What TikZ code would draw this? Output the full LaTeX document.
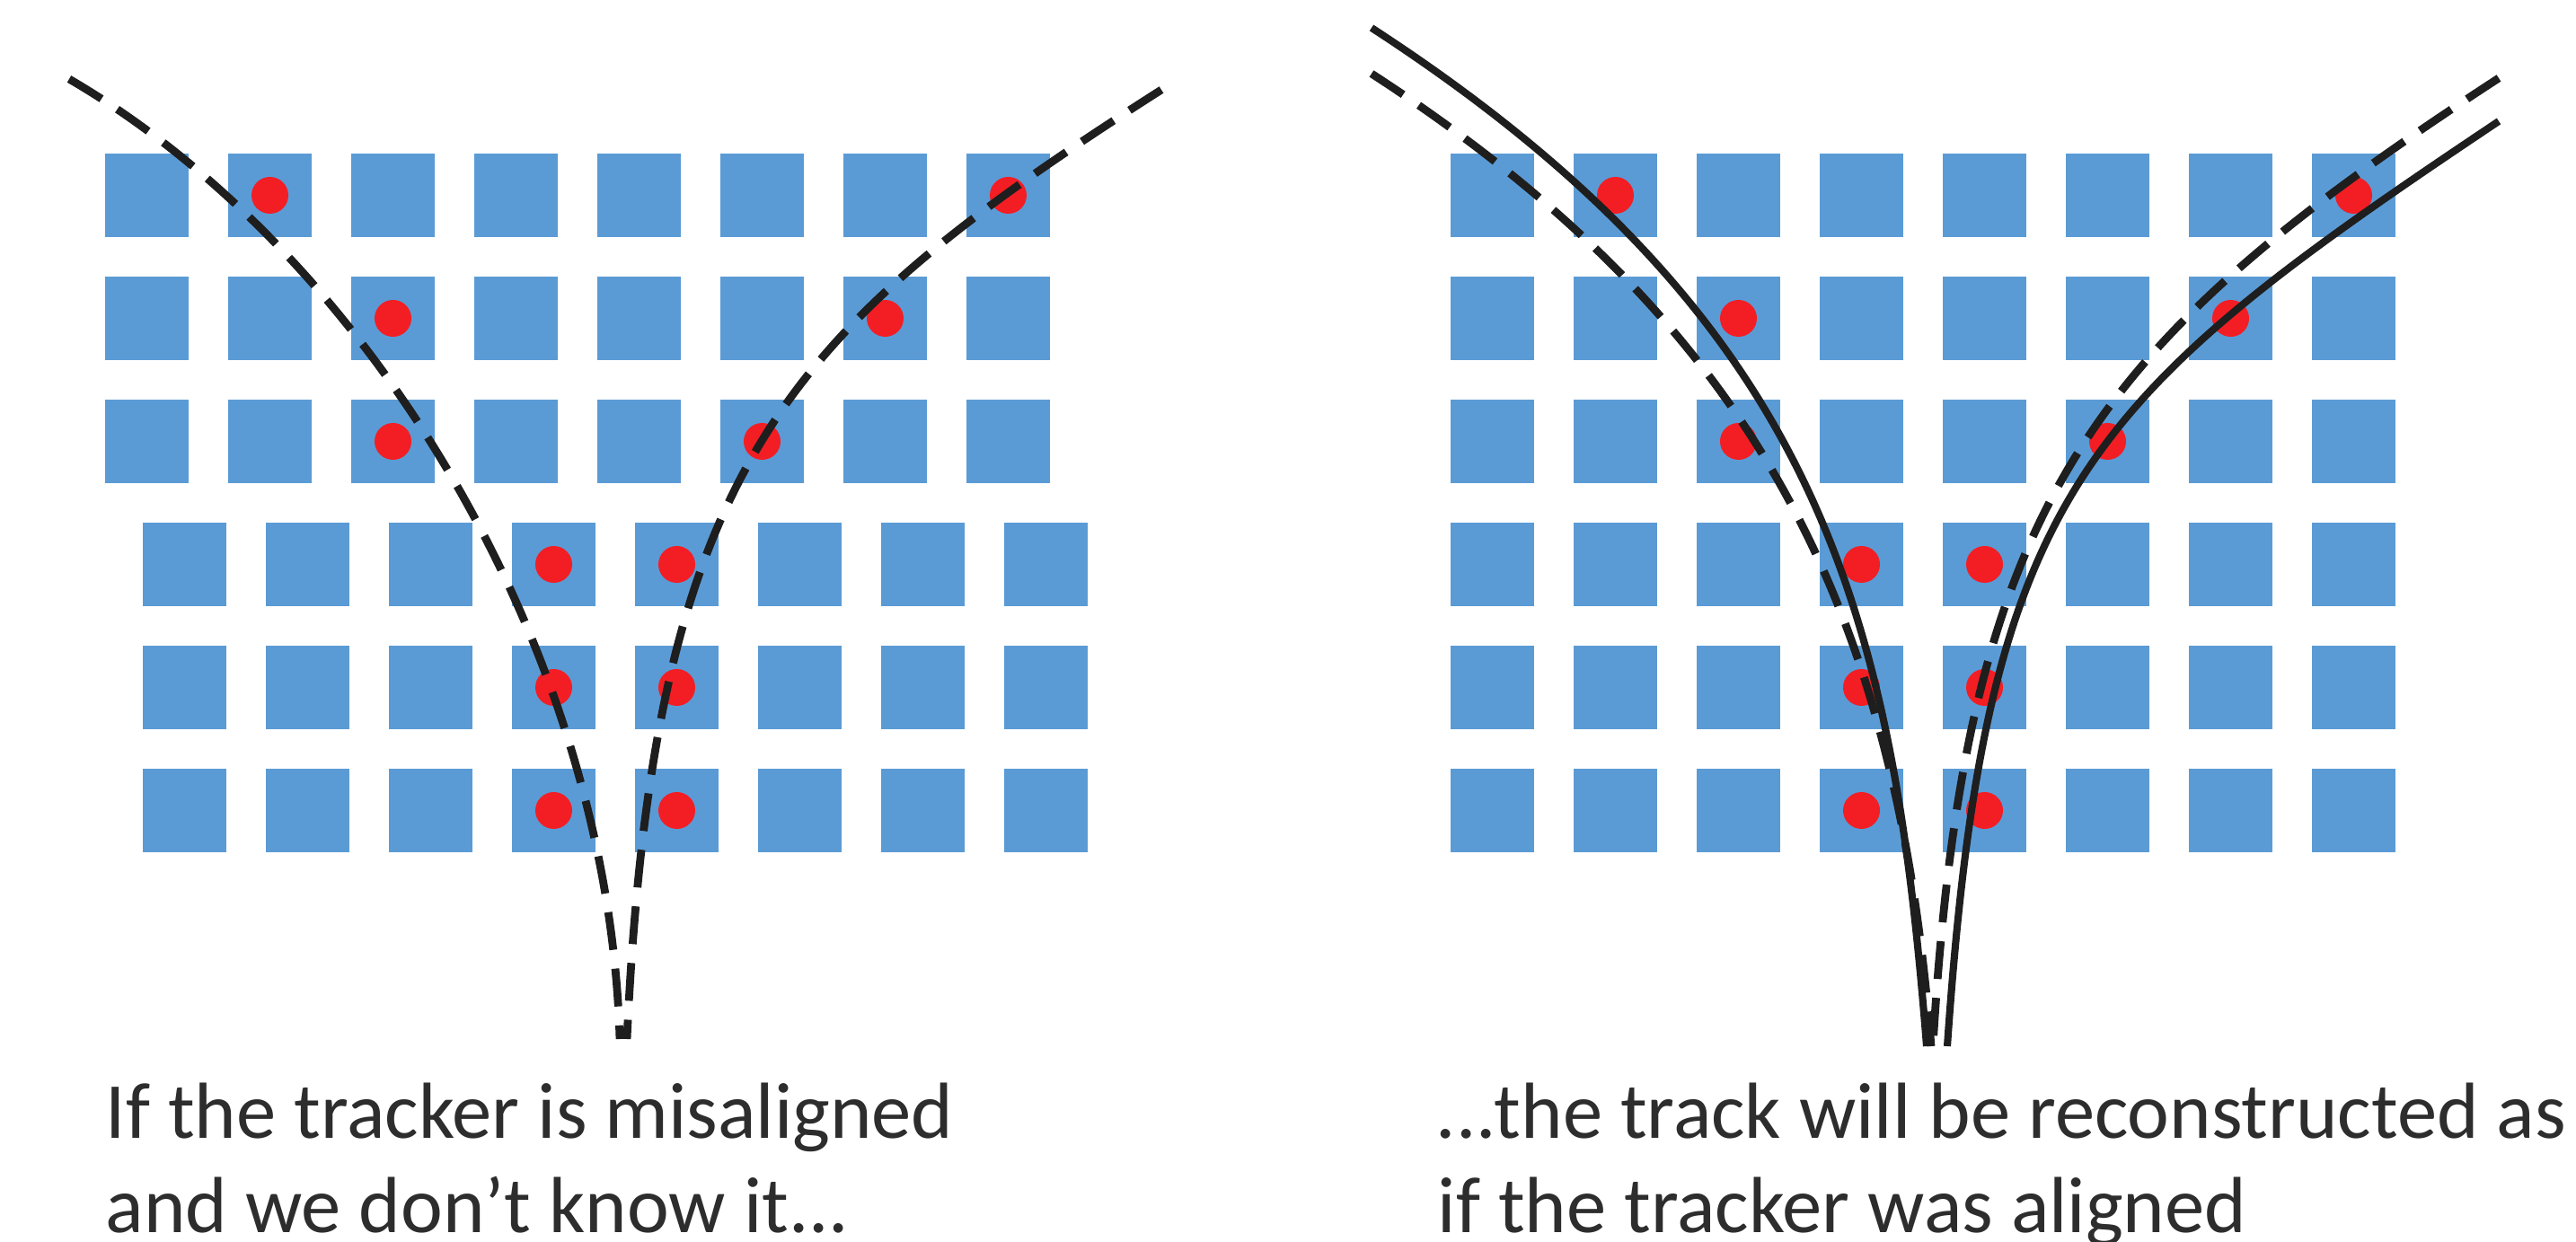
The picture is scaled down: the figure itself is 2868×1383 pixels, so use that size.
\documentclass[tikz,border=0pt]{standalone}
\usepackage{fontspec}
\setmainfont{Carlito}
\definecolor{modblue}{RGB}{91,155,213}
\definecolor{hitred}{RGB}{242,30,36}
\definecolor{trackink}{RGB}{30,30,30}
\definecolor{textink}{RGB}{45,45,45}
\tikzset{
  module/.style={rectangle, fill=modblue, minimum size=0.93cm, inner sep=0pt},
  hit/.style={circle, fill=hitred, minimum size=0.41cm, inner sep=0pt},
  recotrack/.style={line width=2.3pt, draw=trackink},
  truetrack/.style={recotrack, line width=2.5pt, dash pattern=on 12pt off 6pt},
  caption/.style={anchor=base west, inner sep=0pt, text=textink,
    font=\fontsize{25.2}{30}\selectfont}
}
\begin{document}
\begin{tikzpicture}[x=0.01cm, y=-0.01cm]
  \useasboundingbox (0,0) rectangle (2868,1383);

  % modules: left tracker has its lower three layers shifted
  \foreach \r in {0,...,5}{
    \pgfmathsetmacro{\sx}{\r<3 ? 163.5 : 205.5}
    \foreach \c in {0,...,7}{
      \node[module] (L-\r-\c) at ({\sx+137*\c},{217.5+137*\r}) {};
      \node[module] (R-\r-\c) at ({1661.5+137*\c},{217.5+137*\r}) {};
    }
  }

  % hits
  \foreach \r/\c in {0/1,0/7,1/2,1/6,2/2,2/5,3/3,3/4,4/3,4/4,5/3,5/4}{
    \node[hit] (hL-\r-\c) at (L-\r-\c) {};
    \node[hit] (hR-\r-\c) at (R-\r-\c) {};
  }

  % true tracks, misaligned tracker
  \coordinate (tl) at (77,88);
  \coordinate (tr) at (1293,100);
  \coordinate (vl) at (690,1157);
  \coordinate (vr) at (698,1157);
  \draw[truetrack] (tl) .. controls (405,279) and (677,716) .. (vl);
  \draw[truetrack] (tr) .. controls (870,370) and (728,520) .. (vr);

  % reconstructed and true tracks, aligned tracker
  \coordinate (rtl) at (1527,31);
  \coordinate (dtl) at (1527,82);
  \coordinate (rtr) at (2782,135);
  \coordinate (dtr) at (2782,87);
  \coordinate (rvl) at (2145,1165);
  \coordinate (dvl) at (2150,1165);
  \coordinate (rvr) at (2168,1165);
  \coordinate (dvr) at (2152,1165);
  \draw[recotrack] (rtl) .. controls (2030,358) and (2107,685) .. (rvl);
  \draw[truetrack] (dtl) .. controls (1963,365) and (2112,685) .. (dvl);
  \draw[recotrack] (rtr) .. controls (2317,446) and (2211,545) .. (rvr);
  \draw[truetrack] (dtr) .. controls (2321,387) and (2188,565) .. (dvr);

  % captions
  \node[caption] (capL1) at (117,1268) {If the tracker is misaligned};
  \node[caption] (capL2) at (117,1373) {and we don’t know it...};
  \node[caption] (capR1) at (1598,1268) {...the track will be reconstructed as};
  \node[caption] (capR2) at (1600,1373) {if the tracker was aligned};
\end{tikzpicture}
\end{document}
